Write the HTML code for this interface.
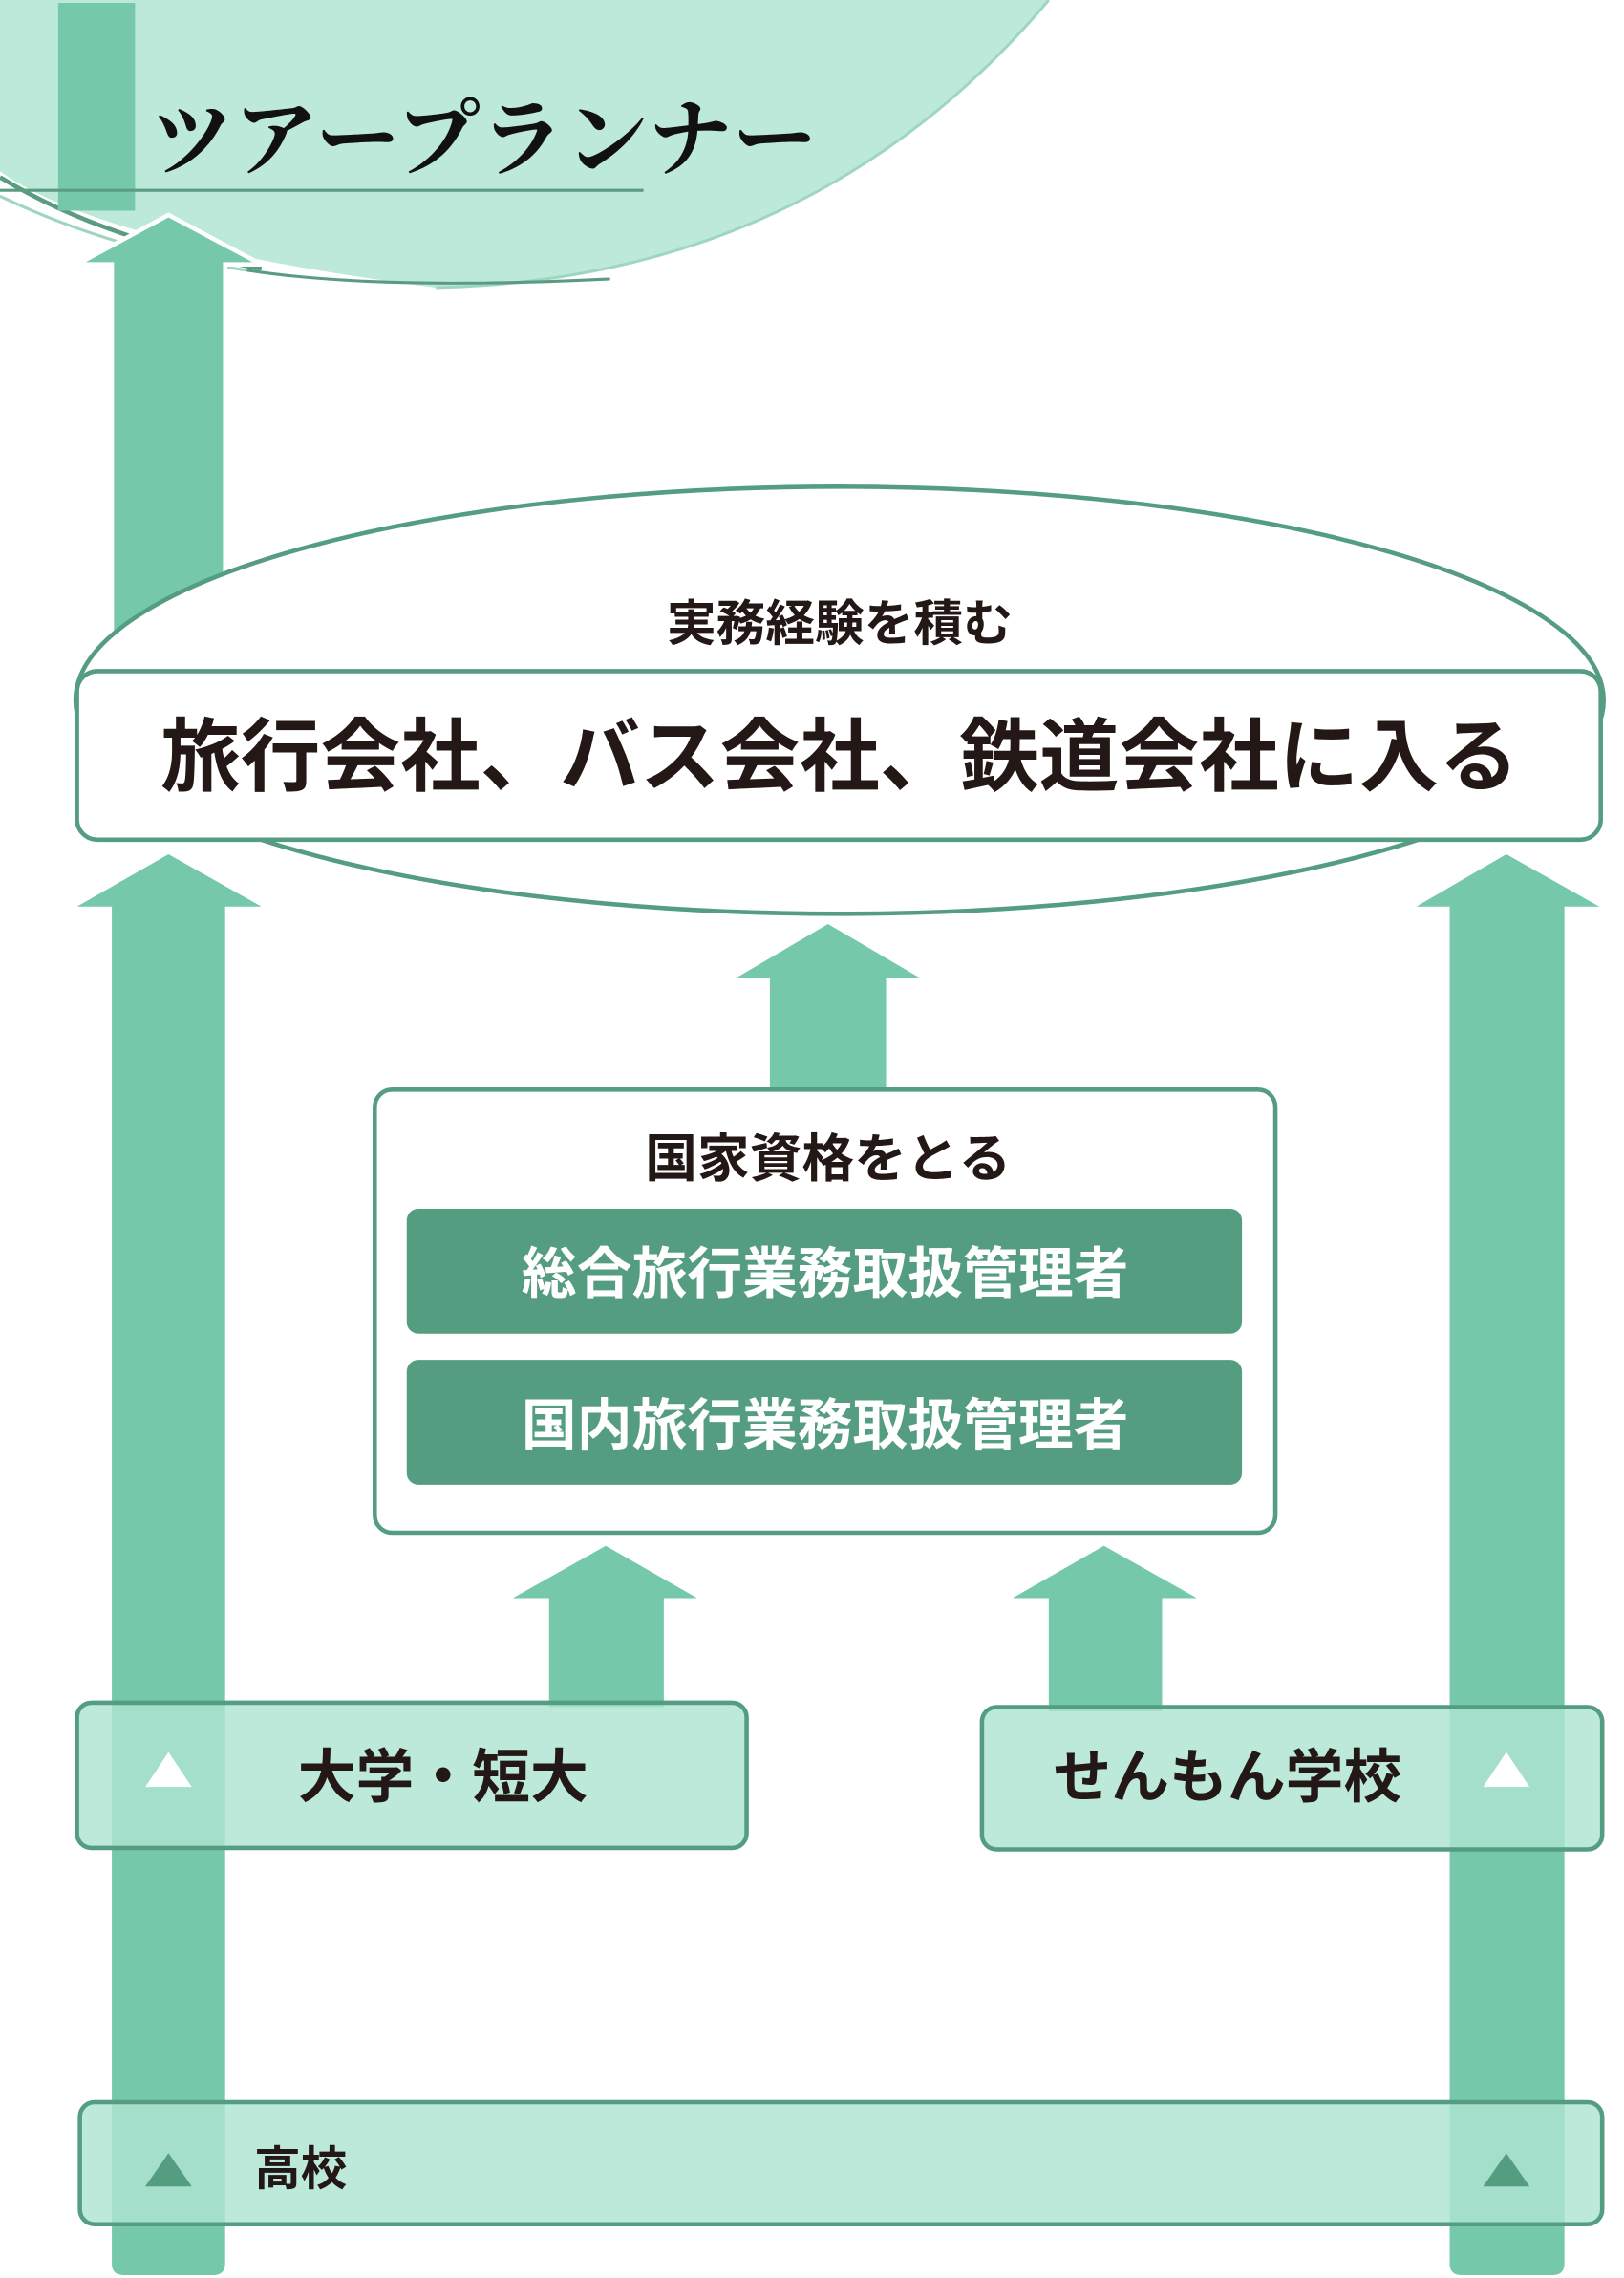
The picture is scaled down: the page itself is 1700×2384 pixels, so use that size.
<!DOCTYPE html>
<html><head><meta charset="utf-8"><style>
html,body{margin:0;padding:0;background:#fff;}
svg{display:block;}
text{font-family:"Liberation Sans","Noto Sans CJK JP",sans-serif;font-weight:bold;}
</style></head><body>
<svg width="1700" height="2384" viewBox="0 0 1118 1568" preserveAspectRatio="none" xmlns="http://www.w3.org/2000/svg">
<rect width="1118" height="1568" fill="#fff"/>
<path d="M0,0 L0,118 Q70,168 300,198 Q560,192 722,0 Z" fill="#bde9da"/>
<path d="M300,198 Q560,192 722,0" fill="none" stroke="#9fd6c2" stroke-width="2"/>
<path d="M0,122 Q70,165 180,185" fill="none" stroke="#5a9c80" stroke-width="3"/>
<path d="M0,135 Q90,178 200,190" fill="none" stroke="#9fd6c2" stroke-width="2"/>
<path d="M170,186 Q260,200 420,192" fill="none" stroke="#5a9c80" stroke-width="2"/>
<rect x="40" y="2" width="53" height="143" fill="#76c8aa"/>
<line x1="0" y1="131" x2="443" y2="131" stroke="#5a9c80" stroke-width="2"/>
<text x="103" y="116" font-size="58" fill="#111" style="font-family:'Liberation Serif','Noto Serif CJK SC',serif">ツアープランナー</text>
<polygon points="116,148 180,182 155,182 155,440 77,440 77,182 53,182" fill="#76c8aa" stroke="#fff" stroke-width="3"/>
<ellipse cx="578" cy="482" rx="526" ry="147" fill="#fff" stroke="#559d80" stroke-width="3"/>
<rect x="53" y="462" width="1049" height="116" rx="14" fill="#fff" stroke="#559d80" stroke-width="3"/>
<text x="578" y="441" font-size="34" fill="#231815" text-anchor="middle">実務経験を積む</text>
<text x="578" y="540" font-size="55" fill="#231815" text-anchor="middle">旅行会社、バス会社、鉄道会社に入る</text>
<path d="M116,588 L180,624 L155,624 L155,1558 Q155,1566 147,1566 L85,1566 Q77,1566 77,1558 L77,624 L53,624 Z" fill="#76c8aa"/>
<path d="M1037,588 L1101,624 L1077,624 L1077,1558 Q1077,1566 1069,1566 L1006,1566 Q998,1566 998,1558 L998,624 L975,624 Z" fill="#76c8aa"/>
<polygon points="570,636 633,673 610,673 610,750 530,750 530,673 507,673" fill="#76c8aa"/>
<rect x="258" y="750" width="620" height="305" rx="12" fill="#fff" stroke="#559d80" stroke-width="3"/>
<text x="570" y="810" font-size="36" fill="#231815" text-anchor="middle">国家資格をとる</text>
<rect x="280" y="832" width="575" height="86" rx="8" fill="#559d80"/>
<rect x="280" y="936" width="575" height="86" rx="8" fill="#559d80"/>
<text x="568" y="890" font-size="38" fill="#fff" text-anchor="middle">総合旅行業務取扱管理者</text>
<text x="568" y="994" font-size="38" fill="#fff" text-anchor="middle">国内旅行業務取扱管理者</text>
<polygon points="417,1064 480,1100 457,1100 457,1175 378,1175 378,1100 353,1100" fill="#76c8aa"/>
<polygon points="760,1064 824,1100 800,1100 800,1178 722,1178 722,1100 697,1100" fill="#76c8aa"/>
<rect x="53" y="1172" width="461" height="100" rx="10" fill="#aee4d2" fill-opacity="0.82" stroke="#559d80" stroke-width="3"/>
<polygon points="116,1206 132,1230 100,1230" fill="#fff"/>
<text x="305" y="1237" font-size="40" fill="#231815" text-anchor="middle">大学・短大</text>
<rect x="676" y="1175" width="427" height="98" rx="10" fill="#aee4d2" fill-opacity="0.82" stroke="#559d80" stroke-width="3"/>
<polygon points="1037,1206 1053,1230 1021,1230" fill="#fff"/>
<text x="845" y="1237" font-size="40" fill="#231815" text-anchor="middle">せんもん学校</text>
<rect x="55" y="1447" width="1048" height="84" rx="10" fill="#aee4d2" fill-opacity="0.82" stroke="#559d80" stroke-width="3"/>
<polygon points="116,1482 132,1505 100,1505" fill="#559d80"/>
<polygon points="1037,1482 1053,1505 1021,1505" fill="#559d80"/>
<text x="175" y="1504" font-size="32" fill="#231815">高校</text>
</svg>
</body></html>
